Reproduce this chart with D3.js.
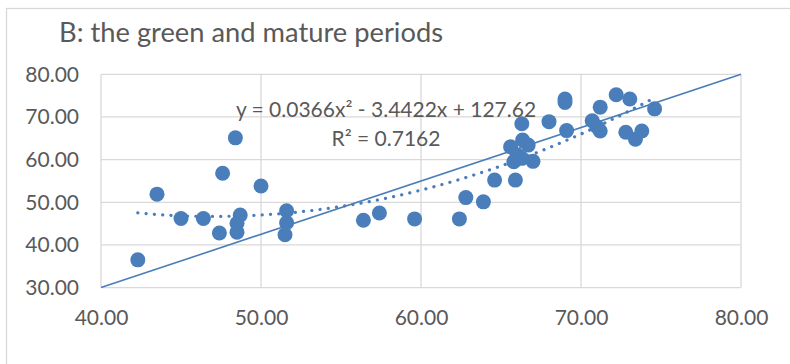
<!DOCTYPE html>
<html>
<head>
<meta charset="utf-8">
<script src="https://cdn.jsdelivr.net/npm/d3@7"></script>
<style>
  html, body { margin: 0; padding: 0; background: #fff; }
  svg { display: block; font-family: Lato, "Open Sans", sans-serif; }
</style>
</head>
<body>
<div id="chart"></div>
<script>
// scatter values
const xValues = [
  42.3, 43.5, 45.0, 46.4, 47.4, 47.6, 48.4, 48.7, 48.5, 48.5,
  50.0, 51.6, 51.6, 51.5, 56.4, 57.4, 59.6, 62.4, 62.8, 63.9,
  64.6, 65.9, 65.8, 65.6, 66.3, 66.35, 66.7, 66.0, 66.3, 67.0,
  68.0, 69.0, 69.0, 69.1, 70.7, 71.0, 71.2, 71.2, 72.2, 73.05,
  72.8, 73.4, 73.8, 74.6
]
const yValues = [
  36.5, 51.9, 46.2, 46.2, 42.8, 56.8, 65.1, 47.0, 45.1, 43.0,
  53.8, 48.0, 45.2, 42.4, 45.8, 47.5, 46.1, 46.1, 51.1, 50.1,
  55.2, 55.2, 59.5, 63.0, 68.4, 64.6, 63.4, 61.1, 60.3, 59.6,
  68.9, 74.2, 73.4, 66.8, 69.1, 67.7, 66.7, 72.3, 75.2, 74.2,
  66.4, 64.8, 66.7, 71.9
]
// straight reference line, corner to corner
const refLineX = [40, 80]
const refLineY = [30, 80]
// polynomial trendline y = a x^2 + b x + c
const trendCoef = [0.0366, -3.4422, 127.62]
const xTicks = [40, 50, 60, 70, 80]
const yTicks = [30, 40, 50, 60, 70, 80]
const titleText = "B: the green and mature periods"
const eqText = "y = 0.0366x² - 3.4422x + 127.62"
const r2Text = "R² = 0.7162"

const width = 790
const height = 364
const blue = "#4a7ebb"
const grid = "#d9d9d9"
const textColor = "#595959"

const svg = d3.select("#chart").append("svg")
  .attr("width", width)
  .attr("height", height)

// chart frame (right/bottom edges fall outside the picture)
svg.append("rect")
  .attr("x", 6.5).attr("y", 8.5)
  .attr("width", 900).attr("height", 500)
  .attr("fill", "#fff")
  .attr("stroke", grid)
  .attr("stroke-width", 1.3)

const x = d3.scaleLinear().domain([40, 80]).range([101, 741])
const y = d3.scaleLinear().domain([30, 80]).range([287.6, 74.3])

// title
svg.append("text")
  .attr("x", 59).attr("y", 42)
  .attr("fill", textColor)
  .attr("font-size", "27px")
  .attr("textLength", 384)
  .attr("lengthAdjust", "spacingAndGlyphs")
  .text(titleText)

// gridlines
svg.append("g")
  .selectAll("line.h")
  .data(yTicks)
  .join("line")
  .attr("x1", x(40)).attr("x2", x(80))
  .attr("y1", d => y(d)).attr("y2", d => y(d))
  .attr("stroke", grid).attr("stroke-width", 1.3)

svg.append("g")
  .selectAll("line.v")
  .data(xTicks)
  .join("line")
  .attr("y1", y(30)).attr("y2", y(80))
  .attr("x1", d => x(d)).attr("x2", d => x(d))
  .attr("stroke", grid).attr("stroke-width", 1.3)

// axes labels
const xAxis = svg.append("g")
  .attr("transform", `translate(0,${y(30)})`)
  .call(d3.axisBottom(x).tickValues(xTicks).tickSize(0).tickPadding(22).tickFormat(d3.format(".2f")))
xAxis.select(".domain").remove()
xAxis.selectAll("text")
  .attr("fill", textColor)
  .attr("font-size", "21px")
  .attr("font-family", "Lato, 'Open Sans', sans-serif")

const yAxis = svg.append("g")
  .attr("transform", `translate(${x(40)},0)`)
  .call(d3.axisLeft(y).tickValues(yTicks).tickSize(0).tickPadding(22).tickFormat(d3.format(".2f")))
yAxis.select(".domain").remove()
yAxis.selectAll("text")
  .attr("fill", textColor)
  .attr("font-size", "21px")
  .attr("font-family", "Lato, 'Open Sans', sans-serif")

const plot = svg.append("g")

// points
plot.selectAll("circle")
  .data(xValues.map((v, i) => [v, yValues[i]]))
  .join("circle")
  .attr("cx", d => x(d[0]))
  .attr("cy", d => y(d[1]))
  .attr("r", 7.5)
  .attr("fill", blue)

// reference line
plot.append("path")
  .datum(refLineX.map((v, i) => [v, refLineY[i]]))
  .attr("d", d3.line().x(d => x(d[0])).y(d => y(d[1])))
  .attr("fill", "none")
  .attr("stroke", blue)
  .attr("stroke-width", 1.6)

// dotted trendline over the data range
const xMin = d3.min(xValues)
const xMax = d3.max(xValues)
const trendPts = d3.range(0, 101).map(i => {
  const xv = xMin + (xMax - xMin) * i / 100
  return [xv, trendCoef[0] * xv * xv + trendCoef[1] * xv + trendCoef[2]]
})
plot.append("path")
  .datum(trendPts)
  .attr("d", d3.line().x(d => x(d[0])).y(d => y(d[1])))
  .attr("fill", "none")
  .attr("stroke", blue)
  .attr("stroke-width", 3.2)
  .attr("stroke-linecap", "round")
  .attr("stroke-dasharray", "0.1 8.2")

// equation label
svg.append("text")
  .attr("x", 386).attr("y", 117)
  .attr("text-anchor", "middle")
  .attr("fill", textColor)
  .attr("font-size", "21px")
  .text(eqText)

svg.append("text")
  .attr("x", 386).attr("y", 146)
  .attr("text-anchor", "middle")
  .attr("fill", textColor)
  .attr("font-size", "21px")
  .text(r2Text)
</script>
</body>
</html>
